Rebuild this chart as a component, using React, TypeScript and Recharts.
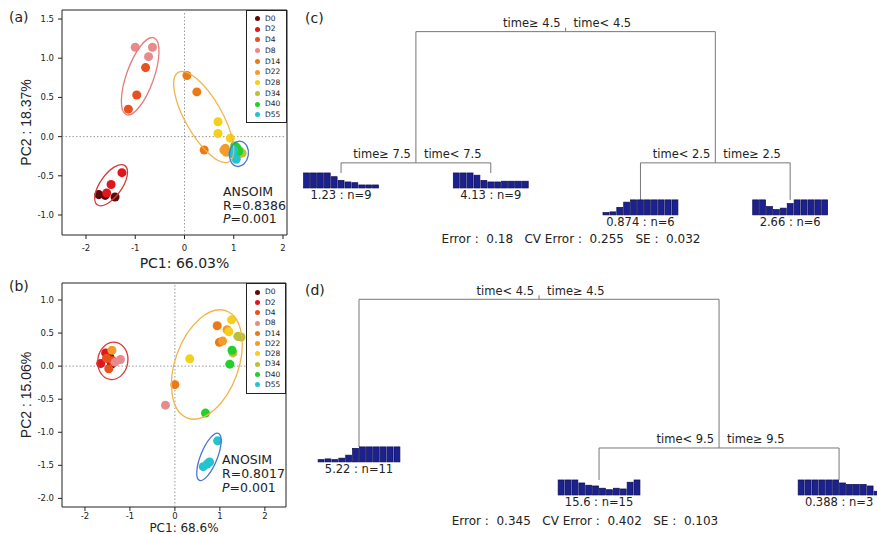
import React from "react";
import {
  ScatterChart,
  Scatter,
  XAxis,
  YAxis,
  ZAxis,
  ReferenceLine,
  ReferenceArea,
  Legend,
} from "recharts";

const FONT_H = '"DejaVu Sans", "Liberation Sans", sans-serif';
const FONT_V = '"Liberation Sans", Arial, sans-serif';
const INK = "#222";
const EDGE = "#777";

// sampling days and their colours
const DAYS = ["D0", "D2", "D4", "D8", "D14", "D22", "D28", "D34", "D40", "D55"];
const DAY_COLORS = [
  "#5c0a0a", "#e0161c", "#e8501e", "#e88a8a", "#ec7a14",
  "#f39c2a", "#f5cf1a", "#b9c13a", "#22d02a", "#22c4d0",
];

// ── (a) PCA scores ─────────────────────────────────────────────────────────
const aDay = [
  "D0", "D0", "D0", "D2", "D2", "D2", "D4", "D4", "D4", "D8", "D8", "D8",
  "D14", "D14", "D14", "D22", "D22", "D22", "D28", "D28", "D28",
  "D34", "D34", "D34", "D40", "D40", "D40", "D55", "D55", "D55",
];
const aPC1 = [
  -1.74, -1.61, -1.41, -1.27, -1.49, -1.58, -0.79, -0.97, -1.14, -1.0, -0.65, -0.73,
  0.05, 0.25, 0.4, 0.83, 0.85, 0.8, 0.68, 0.68, 0.93,
  1.17, 1.12, 1.09, 1.06, 1.1, 1.02, 1.0, 1.05, 0.98,
];
const aPC2 = [
  -0.74, -0.75, -0.77, -0.46, -0.61, -0.72, 0.88, 0.53, 0.35, 1.14, 1.14, 1.02,
  0.78, 0.57, -0.17, -0.15, -0.2, -0.17, 0.19, 0.04, -0.02,
  -0.21, -0.18, -0.23, -0.14, -0.19, -0.12, -0.17, -0.29, -0.22,
];
// group ellipses: centre and two conjugate semi-axes, in PC units
const aEllCenter = [[-0.9, 0.77], [-1.49, -0.62], [0.39, 0.25], [1.105, -0.22]];
const aEllU = [[0.28, 0.49], [0.28, 0.25], [0.515, -0.57], [0.04, 0.16]];
const aEllV = [[0.26, -0.06], [0.18, -0.08], [0.325, 0.115], [0.19, -0.02]];
const aEllColor = ["#e47c7c", "#d83a3a", "#f2b44a", "#4a74d4"];

// ── (b) PCA scores ─────────────────────────────────────────────────────────
const bDay = [
  "D0", "D0", "D0", "D2", "D2", "D2", "D4", "D4", "D4", "D8", "D8", "D8",
  "D14", "D14", "D14", "D22", "D22", "D22", "D28", "D28", "D28",
  "D34", "D34", "D34", "D40", "D40", "D40", "D55", "D55", "D55", "D55",
];
const bPC1 = [
  -1.5, -1.41, -1.45, -1.65, -1.54, -1.45, -1.47, -1.38, -1.52, -1.21, -0.21, -1.33,
  0.0, 0.94, 0.99, -1.4, 1.16, 1.06, 0.33, 1.26, 1.2,
  1.4, 1.47, 1.29, 1.27, 1.22, 0.68, 0.95, 0.77, 0.72, 0.63,
];
const bPC2 = [
  0.19, 0.03, 0.14, 0.04, 0.2, 0.1, -0.04, 0.08, 0.12, 0.1, -0.59, 0.06,
  -0.28, 0.61, 0.36, 0.24, 0.55, 0.38, 0.11, 0.7, 0.52,
  0.45, 0.44, 0.2, 0.24, 0.03, -0.71, -1.13, -1.45, -1.48, -1.52,
];
const bEllCenter = [[-1.38, 0.08], [0.71, 0.025], [0.757, -1.372]];
const bEllU = [[0.066, 0.28], [0.43, 0.81], [0.21, 0.355]];
const bEllV = [[0.33, -0.036], [0.66, -0.164], [0.172, -0.047]];
const bEllColor = ["#d83a3a", "#f2b44a", "#4a74d4"];

// ── (c) regression tree ────────────────────────────────────────────────────
const cLeafLabels = ["1.23 : n=9", "4.13 : n=9", "0.874 : n=6", "2.66 : n=6"];
const cLeafHeights = [0.16, 0.16, 0, 0];
const cLeafBars = [
  [1, 1, 1, 1, 0.75, 0.5, 0.4, 0.35, 0.2, 0.2, 0.2],
  [1, 1, 1, 0.85, 0.5, 0.4, 0.4, 0.45, 0.45, 0.45, 0.45],
  [0.15, 0.2, 0.5, 0.85, 1, 1, 1, 1, 1, 1, 1],
  [1, 1, 0.55, 0.35, 0.45, 0.75, 1, 1, 1, 1, 1],
];
const cSplitLeft = ["time\u2265 4.5", "time\u2265 7.5", "time< 2.5"];
const cSplitRight = ["time< 4.5", "time< 7.5", "time\u2265 2.5"];
const cSplitHeights = [1, 0.22, 0.22];
const cSplitKids = [["S1", "S2"], ["L0", "L1"], ["L2", "L3"]];

// ── (d) regression tree ────────────────────────────────────────────────────
const dLeafLabels = ["5.22 : n=11", "15.6 : n=15", "0.388 : n=3"];
const dLeafHeights = [0.183, 0, 0];
const dLeafBars = [
  [0.15, 0.2, 0.15, 0.25, 0.45, 0.9, 1, 1, 1, 1, 1, 1],
  [1, 1, 1, 0.8, 0.65, 0.6, 0.45, 0.35, 0.45, 0.4, 0.85, 1],
  [1, 1, 1, 1, 1, 1, 0.8, 0.7, 0.7, 0.7, 0.6, 0.25],
];
const dSplitLeft = ["time< 4.5", "time< 9.5"];
const dSplitRight = ["time\u2265 4.5", "time\u2265 9.5"];
const dSplitHeights = [1, 0.177];
const dSplitKids = [["L0", "S1"], ["L1", "L2"]];

const Y_AXIS_W = 62;

function PcaPanel(props: any) {
  const {
    width, height, top, right, xAxisH, xDomain, yDomain, yTicks,
    day, pc1, pc2, ellC, ellU, ellV, ellColor,
    xLabel, yLabel, xLabelDy, xLabelSize, xTickMargin, legendTop, legendW, legendRow, legendPad,
  } = props;
  const plotW = width - right - Y_AXIS_W;
  const plotH = height - top - xAxisH;
  const kx = plotW / (xDomain[1] - xDomain[0]);
  const ky = plotH / (yDomain[1] - yDomain[0]);

  const points = pc1.map((x: number, i: number) => ({ x, y: pc2[i], day: day[i] }));
  const series = DAYS.map((d) => points.filter((p: any) => p.day === d));
  const ellipses = ellC.map((c: number[], i: number) => ({
    x: c[0], y: c[1], u: ellU[i], v: ellV[i], color: ellColor[i],
  }));

  const ellipseShape = (p: any) => {
    const e = p.payload;
    const m = [kx * e.u[0], -ky * e.u[1], kx * e.v[0], -ky * e.v[1], 0, 0].join(" ");
    return (
      <circle
        r={1}
        fill="none"
        stroke={e.color}
        strokeWidth={1.3}
        vectorEffect="non-scaling-stroke"
        transform={`translate(${p.cx} ${p.cy}) matrix(${m})`}
      />
    );
  };

  const legendBox = (lp: any) => {
    const items = (lp.payload || [])
      .filter((it: any) => DAYS.includes(it.value))
      .sort((a: any, b: any) => DAYS.indexOf(a.value) - DAYS.indexOf(b.value));
    return (
      <div
        style={{
          width: legendW, boxSizing: "border-box", border: `1px solid ${INK}`, background: "#fff",
          padding: `${legendPad}px 0`, fontFamily: FONT_H, fontSize: 7.5, color: INK,
        }}
      >
        {items.map((it: any) => (
          <div key={it.value} style={{ height: legendRow, display: "flex", alignItems: "center" }}>
            <span
              style={{
                width: 5, height: 5, borderRadius: "50%", flex: "none",
                background: DAY_COLORS[DAYS.indexOf(it.value)], marginLeft: 8, marginRight: 5,
              }}
            />
            <span style={{ lineHeight: 1 }}>{it.value}</span>
          </div>
        ))}
      </div>
    );
  };

  return (
    <ScatterChart width={width} height={height} margin={{ top, right, bottom: 0, left: 0 }}>
      <XAxis
        type="number" dataKey="x" domain={xDomain} allowDataOverflow
        ticks={[-2, -1, 0, 1, 2]} height={xAxisH} axisLine={false}
        tickSize={4} tickMargin={xTickMargin} tickLine={{ stroke: INK }}
        tick={{ fontSize: 8.5, fill: INK, fontFamily: FONT_H }}
        label={(lp: any) => {
          const vb = lp.viewBox || { x: Y_AXIS_W, y: top + plotH, width: plotW };
          return (
            <text x={vb.x + vb.width / 2 + 10} y={vb.y + xLabelDy} textAnchor="middle"
              dominantBaseline="central" fontFamily={FONT_H} fontSize={xLabelSize} fill={INK}>
              {xLabel}
            </text>
          );
        }}
      />
      <YAxis
        type="number" dataKey="y" domain={yDomain} allowDataOverflow
        ticks={yTicks} width={Y_AXIS_W} axisLine={false}
        tickSize={4} tickMargin={4} tickLine={{ stroke: INK }}
        tickFormatter={(v: number) => v.toFixed(1)}
        tick={{ fontSize: 8.5, fill: INK, fontFamily: FONT_H }}
        label={(lp: any) => {
          const vb = lp.viewBox || { x: 0, y: top, height: plotH };
          const cx = vb.x + 26;
          const cy = vb.y + vb.height / 2;
          return (
            <text x={cx} y={cy} transform={`rotate(-90 ${cx} ${cy})`} textAnchor="middle"
              dominantBaseline="central" fontFamily={FONT_V} fontSize={14} fill={INK}>
              {yLabel}
            </text>
          );
        }}
      />
      <ZAxis range={[38, 38]} />
      <ReferenceLine x={0} stroke="#9a9a9a" strokeDasharray="1.5 2" />
      <ReferenceLine y={0} stroke="#9a9a9a" strokeDasharray="1.5 2" />
      <ReferenceArea
        x1={xDomain[0]} x2={xDomain[1]} y1={yDomain[0]} y2={yDomain[1]}
        fill="none" fillOpacity={0} stroke={INK} strokeWidth={1} ifOverflow="visible"
      />
      {series.map((s: any[], i: number) => (
        <Scatter key={DAYS[i]} name={DAYS[i]} data={s} fill={DAY_COLORS[i]} isAnimationActive={false} />
      ))}
      <Scatter data={ellipses} legendType="none" shape={ellipseShape} isAnimationActive={false} />
      <Legend
        layout="vertical" align="center" verticalAlign="middle"
        wrapperStyle={{ left: 246, top: legendTop, width: legendW }}
        content={legendBox}
      />
    </ScatterChart>
  );
}

function TreePanel(props: any) {
  const {
    width, height, xDomain, yDomain,
    leafLabels, leafHeights, leafBars, splitLeft, splitRight, splitHeights, splitKids,
  } = props;

  const nodeX = (ref: string): number => {
    const i = Number(ref.slice(1));
    if (ref[0] === "L") return i + 1;
    return (nodeX(splitKids[i][0]) + nodeX(splitKids[i][1])) / 2;
  };
  const nodeY = (ref: string): number => {
    const i = Number(ref.slice(1));
    return ref[0] === "L" ? leafHeights[i] : splitHeights[i];
  };

  const leaves = leafLabels.map((label: string, i: number) => ({
    x: nodeX("L" + i), y: leafHeights[i], label, bars: leafBars[i],
  }));
  const splits = splitHeights.map((h: number, i: number) => ({
    x: nodeX("S" + i), y: h, left: splitLeft[i], right: splitRight[i], root: i === 0,
  }));
  const edges = splitKids.map((kids: string[], i: number) => [
    { x: nodeX(kids[0]), y: nodeY(kids[0]) },
    { x: nodeX(kids[0]), y: splitHeights[i] },
    { x: nodeX(kids[1]), y: splitHeights[i] },
    { x: nodeX(kids[1]), y: nodeY(kids[1]) },
  ]);

  const BAR_W = 6.9;
  const BAR_H = 15;
  const leafShape = (p: any) => {
    const bars: number[] = p.payload.bars;
    const x0 = p.cx - (bars.length * BAR_W) / 2;
    return (
      <g>
        {bars.map((h, i) => (
          <rect key={i} x={x0 + i * BAR_W + 0.5} y={p.cy + BAR_H * (1 - h)}
            width={BAR_W - 1} height={BAR_H * h}
            fill="#1c2190" stroke="#0b0b4e" strokeWidth={0.7} />
        ))}
        <text x={p.cx} y={p.cy + BAR_H + 11} textAnchor="middle"
          fontFamily={FONT_H} fontSize={11.5} fill={INK}>
          {p.payload.label}
        </text>
      </g>
    );
  };
  const splitShape = (p: any) => (
    <g fontFamily={FONT_H} fontSize={11.5} fill={INK}>
      <text x={p.cx - 5} y={p.cy - 4.5} textAnchor="end">{p.payload.left}</text>
      <text x={p.cx + 8} y={p.cy - 4.5} textAnchor="start">{p.payload.right}</text>
      {p.payload.root && <line x1={p.cx} x2={p.cx} y1={p.cy} y2={p.cy - 4} stroke={EDGE} />}
    </g>
  );

  return (
    <ScatterChart width={width} height={height} margin={{ top: 0, right: 0, bottom: 0, left: 0 }}>
      <XAxis type="number" dataKey="x" domain={xDomain} hide />
      <YAxis type="number" dataKey="y" domain={yDomain} hide />
      {edges.map((pts: any[], i: number) => (
        <Scatter key={"e" + i} data={pts} line={{ stroke: EDGE, strokeWidth: 1 }}
          shape={() => <g />} legendType="none" isAnimationActive={false} />
      ))}
      <Scatter data={splits} shape={splitShape} legendType="none" isAnimationActive={false} />
      <Scatter data={leaves} shape={leafShape} legendType="none" isAnimationActive={false} />
    </ScatterChart>
  );
}

const overlay = (left: number, top: number, size: number, extra: any = {}) => ({
  position: "absolute" as const, left, top, fontFamily: FONT_H, fontSize: size,
  color: INK, lineHeight: 1, whiteSpace: "pre" as const, ...extra,
});

export default function App() {
  return (
    <div style={{ position: "absolute", left: 0, top: 0, width: 877, height: 534, overflow: "hidden", background: "#fff" }}>
      <div style={{ position: "absolute", left: 0, top: 0 }}>
        <PcaPanel
          width={295} height={278} top={10} right={8} xAxisH={43}
          xDomain={[-2.487, 2.081]} yDomain={[-1.255, 1.615]} yTicks={[-1, -0.5, 0, 0.5, 1, 1.5]}
          day={aDay} pc1={aPC1} pc2={aPC2}
          ellC={aEllCenter} ellU={aEllU} ellV={aEllV} ellColor={aEllColor}
          xLabel="PC1: 66.03%" yLabel="PC2 : 18.37%" xLabelDy={28} xLabelSize={14} xTickMargin={6}
          legendTop={10} legendW={41} legendRow={10.74} legendPad={2}
        />
      </div>
      <div style={{ position: "absolute", left: 0, top: 270 }}>
        <PcaPanel
          width={295} height={264} top={13} right={9} xAxisH={27}
          xDomain={[-2.51, 2.47]} yDomain={[-2.13, 1.257]} yTicks={[-2, -1.5, -1, -0.5, 0, 0.5, 1]}
          day={bDay} pc1={bPC1} pc2={bPC2}
          ellC={bEllCenter} ellU={bEllU} ellV={bEllV} ellColor={bEllColor}
          xLabel="PC1: 68.6%" yLabel="PC2 : 15.06%" xLabelDy={20.5} xLabelSize={12} xTickMargin={2}
          legendTop={13} legendW={40} legendRow={10.3} legendPad={3}
        />
      </div>
      <div style={{ position: "absolute", left: 290, top: 0 }}>
        <TreePanel
          width={587} height={265} xDomain={[0.659, 4.58]} yDomain={[-0.387, 1.188]}
          leafLabels={cLeafLabels} leafHeights={cLeafHeights} leafBars={cLeafBars}
          splitLeft={cSplitLeft} splitRight={cSplitRight} splitHeights={cSplitHeights} splitKids={cSplitKids}
        />
      </div>
      <div style={{ position: "absolute", left: 290, top: 270 }}>
        <TreePanel
          width={587} height={264} xDomain={[0.7125, 3.158]} yDomain={[-0.299, 1.162]}
          leafLabels={dLeafLabels} leafHeights={dLeafHeights} leafBars={dLeafBars}
          splitLeft={dSplitLeft} splitRight={dSplitRight} splitHeights={dSplitHeights} splitKids={dSplitKids}
        />
      </div>

      {/* panel letters */}
      <div style={overlay(9, 10, 14)}>(a)</div>
      <div style={overlay(9, 279, 14)}>(b)</div>
      <div style={overlay(305, 11, 14)}>(c)</div>
      <div style={overlay(305, 283, 14)}>(d)</div>

      {/* ANOSIM results */}
      <div style={overlay(223, 185, 12.5, { lineHeight: "13.5px" })}>
        <div>ANSOIM</div>
        <div>R=0.8386</div>
        <div><i>P</i>=0.001</div>
      </div>
      <div style={overlay(222, 453, 12.5, { lineHeight: "14px" })}>
        <div>ANOSIM</div>
        <div>R=0.8017</div>
        <div><i>P</i>=0.001</div>
      </div>

      {/* tree error summaries */}
      <div style={overlay(571, 233, 12, { transform: "translateX(-50%)" })}>
        {"Error :  0.18   CV Error :  0.255   SE :  0.032"}
      </div>
      <div style={overlay(585, 515, 12, { transform: "translateX(-50%)" })}>
        {"Error :  0.345   CV Error :  0.402   SE :  0.103"}
      </div>
    </div>
  );
}
